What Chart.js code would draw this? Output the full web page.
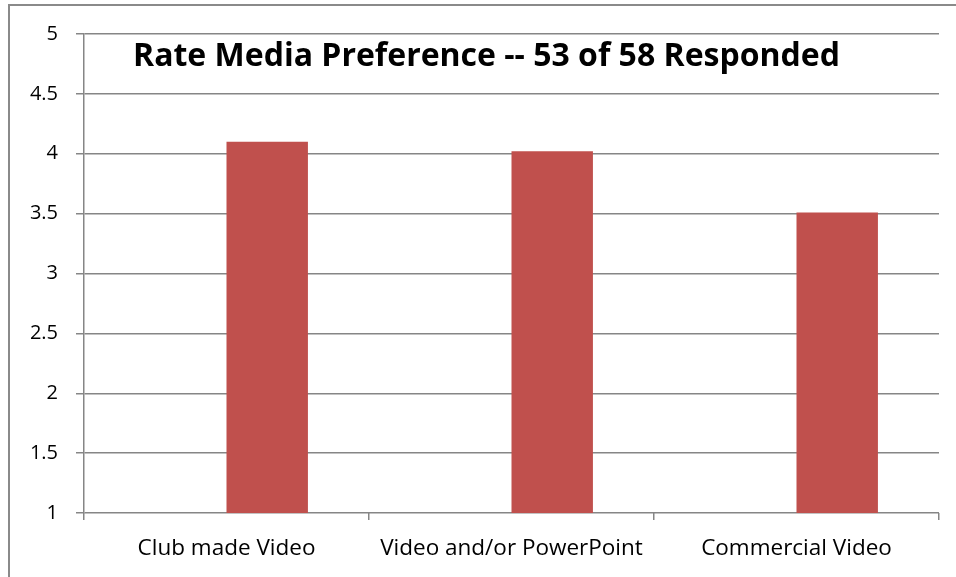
<!DOCTYPE html>
<html>
<head>
<meta charset="utf-8">
<script src="https://cdn.jsdelivr.net/npm/chart.js@4"></script>
<style>
  html, body { margin: 0; padding: 0; background: #fff; overflow: hidden; }
  #frame { position: absolute; left: 8px; top: 4px; width: 1000px; height: 600px;
           border-left: 2px solid #8a8a8a; border-top: 2px solid #8a8a8a; }
  #wrap { position: absolute; left: 0; top: 0; width: 956px; height: 577px; }
</style>
</head>
<body>
<div id="frame"></div>
<div id="wrap"><canvas id="chart"></canvas></div>
<script>
const categories = ['Club made Video', 'Video and/or PowerPoint', 'Commercial Video']
const emptySeries = [null, null, null]
const ratings = [4.10, 4.02, 3.51]
const yTicks = [1, 1.5, 2, 2.5, 3, 3.5, 4, 4.5, 5]
const title = 'Rate Media Preference -- 53 of 58 Responded'

const FONT = '"Open Sans", "Liberation Sans", sans-serif'
const GRID = '#868686'

const titleInPlot = {
    id: 'titleInPlot',
    afterDraw(chart) {
        const {ctx, chartArea} = chart
        ctx.save()
        ctx.font = 'bold 32px ' + FONT
        ctx.fillStyle = '#000'
        ctx.textBaseline = 'alphabetic'
        ctx.textAlign = 'left'
        ctx.fillText(title, chartArea.left + 49, chartArea.top + 32)
        ctx.restore()
    }
}

new Chart(document.getElementById('chart').getContext('2d'), {
    type: 'bar',
    data: {
        labels: categories,
        datasets: [
            {label: 'blank', data: emptySeries, backgroundColor: '#4F81BD'},
            {label: 'Rating', data: ratings, backgroundColor: '#C0504D'}
        ]
    },
    options: {
        responsive: true,
        maintainAspectRatio: false,
        animation: false,
        layout: {padding: {left: 0, right: 17, top: 34, bottom: 0}},
        categoryPercentage: 2 / 3.5,
        barPercentage: 1,
        plugins: {
            legend: {display: false},
            title: {display: false},
            tooltip: {enabled: false}
        },
        scales: {
            x: {
                grid: {display: true, drawOnChartArea: false, drawTicks: true, tickLength: 7, color: GRID, offset: true, lineWidth: 1.5},
                border: {display: false},
                ticks: {color: '#000', font: {family: FONT, size: 22.5}, padding: 15, maxRotation: 0},
                afterFit(scale) { scale.height = 64 }
            },
            y: {
                min: 1,
                max: 5,
                afterBuildTicks(scale) { scale.ticks = yTicks.map(v => ({value: v})) },
                grid: {color: GRID, lineWidth: 1.5, tickLength: 8},
                border: {color: GRID, width: 1.5},
                ticks: {color: '#000', font: {family: FONT, size: 20}, padding: 18, callback: v => String(v)},
                afterFit(scale) { scale.width = 84 }
            }
        }
    },
    plugins: [titleInPlot]
})
</script>
</body>
</html>
